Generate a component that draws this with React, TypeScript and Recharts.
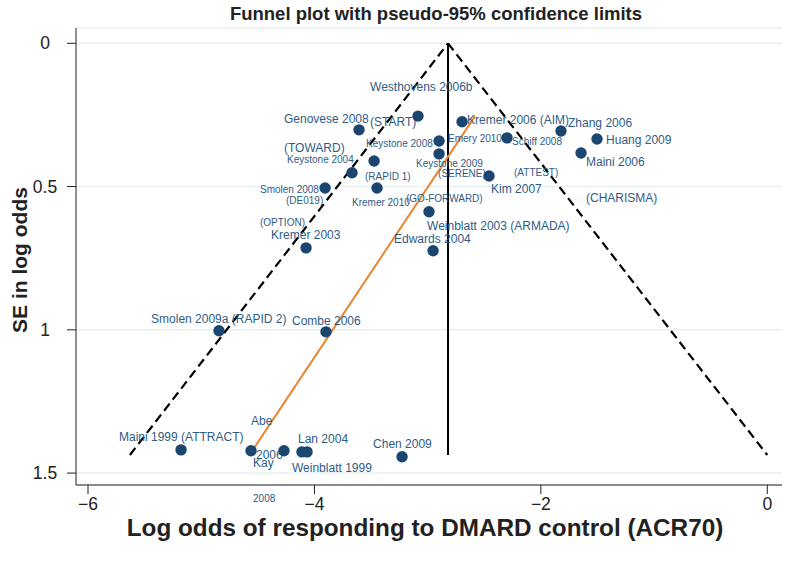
import React from 'react';
import {
  ComposedChart,
  Scatter,
  XAxis,
  YAxis,
  CartesianGrid,
  ReferenceLine,
  ReferenceDot,
} from 'recharts';

// ---- axes ----
const xTicks = [-6, -4, -2, 0];
const yTicks = [0, 0.5, 1, 1.5];
const xDomain = [-6.106, 0.13];
const yDomain = [-0.0534, 1.5416];

// ---- study estimates (log odds, SE) ----
const studies = [
  { x: -3.085, se: 0.254 },
  { x: -3.606, se: 0.302 },
  { x: -2.696, se: 0.274 },
  { x: -1.822, se: 0.306 },
  { x: -1.504, se: 0.334 },
  { x: -1.645, se: 0.383 },
  { x: -2.299, se: 0.33 },
  { x: -2.899, se: 0.341 },
  { x: -2.899, se: 0.386 },
  { x: -3.473, se: 0.411 },
  { x: -3.668, se: 0.452 },
  { x: -2.458, se: 0.463 },
  { x: -3.906, se: 0.505 },
  { x: -3.447, se: 0.505 },
  { x: -2.988, se: 0.588 },
  { x: -4.074, se: 0.714 },
  { x: -2.952, se: 0.724 },
  { x: -4.843, se: 1.003 },
  { x: -3.898, se: 1.007 },
  { x: -5.178, se: 1.419 },
  { x: -4.56, se: 1.422 },
  { x: -4.269, se: 1.422 },
  { x: -4.11, se: 1.426 },
  { x: -4.065, se: 1.426 },
  { x: -3.226, se: 1.443 },
];

// ---- study labels (anchor in data coordinates) ----
const labelsLarge = [
  { text: 'Westhovens 2006b', x: -3.509, se: 0.152 },
  { text: 'Genovese 2008', x: -4.269, se: 0.264 },
  { text: '(START)', x: -3.509, se: 0.274 },
  { text: 'Kremer 2006 (AIM)', x: -2.652, se: 0.268 },
  { text: 'Zhang 2006', x: -1.76, se: 0.278 },
  { text: 'Huang 2009', x: -1.424, se: 0.337 },
  { text: 'Maini 2006', x: -1.601, se: 0.414 },
  { text: '(TOWARD)', x: -4.269, se: 0.365 },
  { text: 'Kim 2007', x: -2.44, se: 0.508 },
  { text: '(CHARISMA)', x: -1.601, se: 0.54 },
  { text: 'Kremer 2003', x: -4.383, se: 0.669 },
  { text: 'Weinblatt 2003 (ARMADA)', x: -3.005, se: 0.637 },
  { text: 'Edwards 2004', x: -3.297, se: 0.683 },
  { text: 'Smolen 2009a (RAPID 2)', x: -5.443, se: 0.962 },
  { text: 'Combe 2006', x: -4.198, se: 0.969 },
  { text: 'Maini 1999 (ATTRACT)', x: -5.726, se: 1.373 },
  { text: 'Abe', x: -4.56, se: 1.317 },
  { text: '2006', x: -4.516, se: 1.436 },
  { text: 'Kay', x: -4.542, se: 1.464 },
  { text: 'Lan 2004', x: -4.145, se: 1.38 },
  { text: 'Chen 2009', x: -3.482, se: 1.398 },
  { text: 'Weinblatt 1999', x: -4.198, se: 1.481 },
];

const labelsSmall = [
  { text: 'Keystone 2008', x: -3.544, se: 0.348 },
  { text: 'Emery 2010', x: -2.82, se: 0.334 },
  { text: 'Schiff 2008', x: -2.254, se: 0.341 },
  { text: 'Keystone 2004', x: -4.242, se: 0.407 },
  { text: 'Keystone 2009', x: -3.102, se: 0.418 },
  { text: '(RAPID 1)', x: -3.553, se: 0.466 },
  { text: '(SERENE)', x: -2.908, se: 0.456 },
  { text: '(ATTEST)', x: -2.237, se: 0.452 },
  { text: 'Smolen 2008', x: -4.481, se: 0.512 },
  { text: '(DE019)', x: -4.251, se: 0.547 },
  { text: 'Kremer 2010', x: -3.668, se: 0.557 },
  { text: '(GO-FORWARD)', x: -3.191, se: 0.54 },
  { text: '(OPTION)', x: -4.481, se: 0.627 },
  { text: '2008', x: -4.542, se: 1.589 },
];

// ---- funnel (pseudo-95% limits) and regression line ----
const funnelApex = { x: -2.82, se: 0 };
const funnelLeftBase = { x: -5.63, se: 1.437 };
const funnelRightBase = { x: 0.0, se: 1.437 };
const funnelCentreBase = { x: -2.82, se: 1.437 };
const eggerLine = [
  { x: -4.578, se: 1.439 },
  { x: -2.581, se: 0.254 },
];

const POINT = '#1a4670';
const LABEL = '#2f5c86';
const FONT = '"Liberation Sans", Arial, Helvetica, sans-serif';

const fmt = (v: number) => (v < 0 ? '\u2212' + Math.abs(v) : String(v));

const YTick = (props: any) => {
  const { x, y, payload } = props;
  return (
    <text x={x - 20} y={y} dy="0.35em" textAnchor="middle" fontSize={17.5} fill="#222" fontFamily={FONT}>
      {String(payload.value)}
    </text>
  );
};

const XTick = (props: any) => {
  const { x, y, payload } = props;
  return (
    <text x={x} y={y} dy="0.8em" textAnchor="middle" fontSize={17.5} fill="#222" fontFamily={FONT}>
      {fmt(payload.value)}
    </text>
  );
};

const makeLabelShape = (text: string, size: number) => (p: any) => (
  <text x={p.cx} y={p.cy} dy="0.35em" textAnchor="start" fontSize={size} fill={LABEL} fontFamily={FONT}>
    {text}
  </text>
);

const Dot = (p: any) => <circle cx={p.cx} cy={p.cy} r={5.7} fill={POINT} />;

export default function App() {
  return (
    <div style={{ position: 'absolute', left: 0, top: 0, width: 788, height: 568, background: '#fff', fontFamily: FONT }}>
      <div
        style={{
          position: 'absolute',
          left: 0,
          width: 872,
          top: 3,
          textAlign: 'center',
          fontWeight: 'bold',
          fontSize: 18.5,
          color: '#222',
          whiteSpace: 'nowrap',
        }}
      >
        Funnel plot with pseudo-95% confidence limits
      </div>
      <div
        style={{
          position: 'absolute',
          left: 0,
          width: 850,
          top: 514,
          height: 28,
          lineHeight: '28px',
          textAlign: 'center',
          fontWeight: 'bold',
          fontSize: 24.3,
          color: '#222',
          whiteSpace: 'nowrap',
        }}
      >
        Log odds of responding to DMARD control (ACR70)
      </div>
      <div
        style={{
          position: 'absolute',
          left: 20 - 150,
          top: 260 - 14,
          width: 300,
          height: 28,
          lineHeight: '28px',
          textAlign: 'center',
          fontWeight: 'bold',
          fontSize: 21,
          color: '#222',
          transform: 'rotate(-90deg)',
          whiteSpace: 'nowrap',
        }}
      >
        SE in log odds
      </div>
      <div style={{ position: 'absolute', left: 0, top: 0 }}>
        <ComposedChart width={788} height={568} margin={{ top: 28, right: 6, left: 16, bottom: 43 }}>
          <CartesianGrid horizontal vertical={false} stroke="#e6f0f2" strokeWidth={1.5} />
          <XAxis
            type="number"
            dataKey="x"
            domain={xDomain}
            ticks={xTicks}
            allowDataOverflow
            height={40}
            tickSize={9}
            tick={<XTick />}
            stroke="#222"
            tickLine={{ stroke: '#222' }}
          />
          <YAxis
            type="number"
            dataKey="se"
            domain={yDomain}
            ticks={yTicks}
            reversed
            allowDataOverflow
            width={60}
            tickSize={9}
            tick={<YTick />}
            stroke="#222"
            tickLine={{ stroke: '#222' }}
          />
          {labelsLarge.map((l, i) => (
            <ReferenceDot key={'L' + i} x={l.x} y={l.se} ifOverflow="visible" shape={makeLabelShape(l.text, 12)} />
          ))}
          {labelsSmall.map((l, i) => (
            <ReferenceDot key={'S' + i} x={l.x} y={l.se} ifOverflow="visible" shape={makeLabelShape(l.text, 10)} />
          ))}
          <Scatter data={studies} dataKey="se" shape={<Dot />} isAnimationActive={false} />
          <ReferenceLine
            segment={[
              { x: funnelLeftBase.x, y: funnelLeftBase.se },
              { x: funnelApex.x, y: funnelApex.se },
            ]}
            stroke="#000"
            strokeWidth={2.2}
            strokeDasharray="9 5"
            ifOverflow="visible"
          />
          <ReferenceLine
            segment={[
              { x: funnelApex.x, y: funnelApex.se },
              { x: funnelRightBase.x, y: funnelRightBase.se },
            ]}
            stroke="#000"
            strokeWidth={2.2}
            strokeDasharray="9 5"
            ifOverflow="visible"
          />
          <ReferenceLine
            segment={[
              { x: funnelApex.x, y: funnelApex.se },
              { x: funnelCentreBase.x, y: funnelCentreBase.se },
            ]}
            stroke="#000"
            strokeWidth={2}
            ifOverflow="visible"
          />
          <ReferenceLine
            segment={[
              { x: eggerLine[0].x, y: eggerLine[0].se },
              { x: eggerLine[1].x, y: eggerLine[1].se },
            ]}
            stroke="#e8862d"
            strokeWidth={2}
            ifOverflow="visible"
          />
        </ComposedChart>
      </div>
    </div>
  );
}
